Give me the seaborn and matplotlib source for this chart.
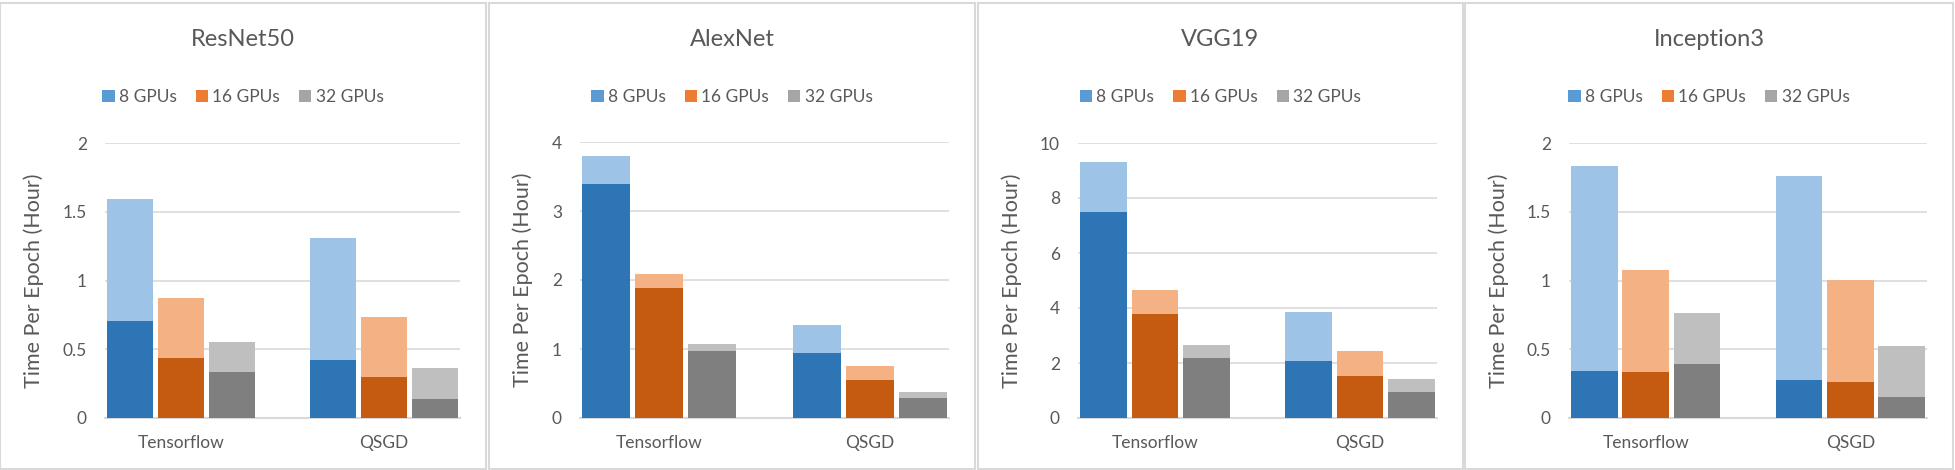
import pandas as pd
import numpy as np
import matplotlib.pyplot as plt
import seaborn as sns
from matplotlib.patches import Patch, Rectangle

# estilo base
sns.set_style("white")
plt.rcParams['font.family'] = ['Lato', 'DejaVu Sans']

# dados (ordem: Tensorflow 8/16/32, QSGD 8/16/32)
frameworks = ['Tensorflow', 'QSGD']
gpus = ['8 GPUs', '16 GPUs', '32 GPUs']
models = ['ResNet50', 'AlexNet', 'VGG19', 'Inception3']

resnet_total = [1.59, 0.87, 0.555, 1.31, 0.735, 0.365]
resnet_base = [0.705, 0.44, 0.335, 0.425, 0.295, 0.14]
alexnet_total = [3.79, 2.09, 1.075, 1.35, 0.76, 0.38]
alexnet_base = [3.39, 1.89, 0.975, 0.945, 0.555, 0.295]
vgg_total = [9.3, 4.66, 2.66, 3.86, 2.44, 1.43]
vgg_base = [7.48, 3.78, 2.19, 2.08, 1.54, 0.955]
incep_total = [1.83, 1.075, 0.765, 1.76, 1.005, 0.525]
incep_base = [0.345, 0.335, 0.395, 0.28, 0.265, 0.155]

y_max = [2, 4, 10, 2]
y_step = [0.5, 1, 2, 0.5]

totals = [resnet_total, alexnet_total, vgg_total, incep_total]
bases = [resnet_base, alexnet_base, vgg_base, incep_base]

light = ['#9DC3E6', '#F4B183', '#BFBFBF']
dark = ['#2E75B6', '#C55A11', '#7F7F7F']
legend_cols = ['#5B9BD5', '#ED7D31', '#A5A5A5']
txt = '#595959'
grid_c = '#D9D9D9'

W, H = 1955, 470
fig = plt.figure(figsize=(W / 100, H / 100), dpi=100)

# posicoes em pixel: (painel esq, painel dir, plot esq, plot dir, plot topo)
panels = [(0, 486, 105, 460, 143),
          (489, 975, 580, 949, 142),
          (978, 1463, 1078, 1437, 143),
          (1465, 1953, 1569, 1927, 143)]
plot_bottom = 418

for i, model in enumerate(models):
    pl, pr, al, ar, at = panels[i]
    # moldura do painel
    fig.add_artist(Rectangle((pl / W, 1 / H), (pr - pl) / W, (467 - 1) / H,
                             transform=fig.transFigure, fill=False,
                             edgecolor=grid_c, linewidth=1.5))
    ax = fig.add_axes([al / W, (H - plot_bottom) / H, (ar - al) / W, (plot_bottom - at) / H])

    df = pd.DataFrame({
        'framework': np.repeat(frameworks, 3),
        'gpus': gpus * 2,
        'total': totals[i],
        'base': bases[i],
    })
    sns.barplot(data=df, x='framework', y='total', hue='gpus', order=frameworks,
                hue_order=gpus, palette=light, saturation=1, width=0.75, gap=0.09,
                errorbar=None, linewidth=0, legend=False, ax=ax, zorder=3)
    sns.barplot(data=df, x='framework', y='base', hue='gpus', order=frameworks,
                hue_order=gpus, palette=dark, saturation=1, width=0.75, gap=0.09,
                errorbar=None, linewidth=0, legend=False, ax=ax, zorder=4)

    ax.set_xlim(-0.375, 1.375)
    ax.set_ylim(0, y_max[i])
    ax.set_yticks(np.arange(0, y_max[i] + 1e-9, y_step[i]))
    ax.set_yticklabels([f'{v:g}' for v in ax.get_yticks()])
    ax.yaxis.grid(True, color=grid_c, linewidth=1.2, zorder=0)
    ax.set_axisbelow(True)
    for s in ['top', 'right', 'left']:
        ax.spines[s].set_visible(False)
    ax.spines['bottom'].set_color(grid_c)
    ax.spines['bottom'].set_linewidth(1.5)
    ax.tick_params(axis='both', length=0, labelsize=12.5, colors=txt)
    ax.tick_params(axis='x', pad=12, labelsize=12.5)
    ax.tick_params(axis='y', pad=13)
    ax.set_xlabel('')
    ax.set_ylabel('Time Per Epoch (Hour)', fontsize=15.5, color=txt)
    ax.yaxis.set_label_coords((pl + 44 - al) / (ar - al), 0.5)

    cx = (pl + pr) / 2 / W
    fig.text(cx, 1 - 40 / H, model, ha='center', va='center', fontsize=17, color=txt)
    handles = [Patch(facecolor=c, edgecolor='none') for c in legend_cols]
    leg = ax.legend(handles, gpus, loc='center', bbox_to_anchor=(cx, 1 - 97 / H),
                    bbox_transform=fig.transFigure, ncol=3, frameon=False,
                    handlelength=0.7, handleheight=0.7, handletextpad=0.25,
                    columnspacing=1.1, fontsize=12.5)
    for t in leg.get_texts():
        t.set_color(txt)

fig.savefig('out.png', dpi=100, facecolor='white')
